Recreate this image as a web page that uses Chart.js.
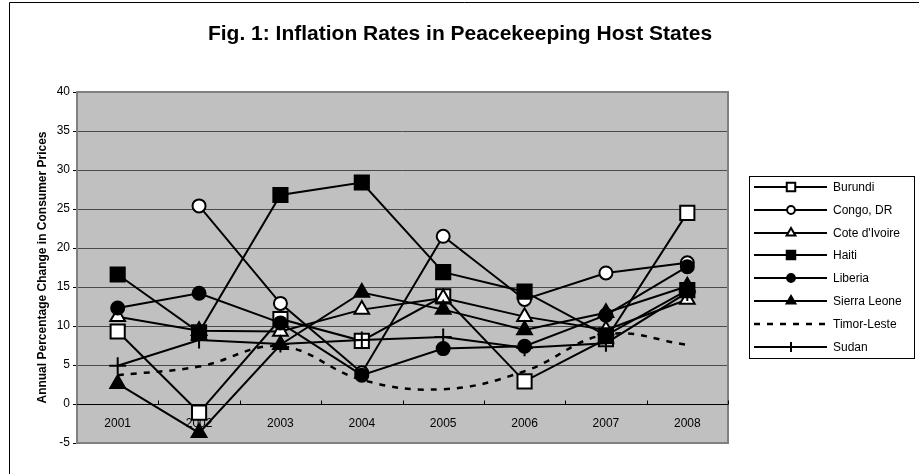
<!DOCTYPE html>
<html>
<head>
<meta charset="utf-8">
<script src="https://cdn.jsdelivr.net/npm/chart.js@4.4.1/dist/chart.umd.min.js"></script>
<style>
  body { margin: 0; background: #fff; }
  #wrap { width: 919px; height: 474px; position: relative; }
</style>
</head>
<body>
<div id="wrap"><canvas id="inflationChart" width="919" height="474"></canvas></div>
<script>
// ---------------- DATA ----------------
const years = ["2001", "2002", "2003", "2004", "2005", "2006", "2007", "2008"];

const burundi      = [9.3, -1.1, 10.9, 8.1, 13.8, 2.9, 8.3, 24.5];
const congoDR      = [null, 25.4, 12.9, 4.0, 21.5, 13.4, 16.8, 18.1];
const coteDIvoire  = [11.2, 9.4, 9.3, 12.1, 13.6, 11.2, 9.5, 13.4];
const haiti        = [16.6, 9.2, 26.8, 28.4, 16.9, 14.4, 8.8, 14.6];
const liberia      = [12.3, 14.2, 10.4, 3.7, 7.1, 7.4, 11.4, 17.6];
const sierraLeone  = [2.6, -3.7, 7.6, 14.3, 12.1, 9.5, 11.7, 15.1];
const timorLeste   = [3.7, 4.8, 7.4, 3.1, 1.9, 4.2, 8.9, 7.6];
const sudan        = [4.9, 8.2, 7.7, 8.2, 8.6, 7.2, 7.8, 14.3];

const yTicks = [-5, 0, 5, 10, 15, 20, 25, 30, 35, 40];

const FONT = "'Liberation Sans', Arial, sans-serif";

// series styling (markers as in the original Excel chart)
function series(label, data, style, fill, radius) {
  return {
    label: label,
    data: data,
    borderColor: "#000",
    borderWidth: 2,
    pointStyle: style,
    pointRadius: radius,
    pointHoverRadius: radius,
    pointBackgroundColor: fill,
    pointBorderColor: "#000",
    pointBorderWidth: 2,
    tension: 0,
    spanGaps: false
  };
}

const datasets = [
  series("Burundi", burundi, "rect", "#fff", 10),
  series("Congo, DR", congoDR, "circle", "#fff", 6.5),
  series("Cote d'Ivoire", coteDIvoire, "triangle", "#fff", 8.5),
  series("Haiti", haiti, "rect", "#000", 10),
  series("Liberia", liberia, "circle", "#000", 6.5),
  series("Sierra Leone", sierraLeone, "triangle", "#000", 8.5),
  Object.assign(series("Timor-Leste", timorLeste, "circle", "#000", 0), {
    borderDash: [6, 7], borderWidth: 2.5, tension: 0.4
  }),
  series("Sudan", sudan, "cross", "#000", 8.5)
];
// later series on top, as in Excel
datasets.forEach((d, i) => { d.order = datasets.length - i; });

// ---------------- PLUGINS ----------------
const frame = {
  id: "frame",
  beforeDraw(chart) {
    const { ctx, chartArea: a } = chart;
    ctx.save();
    ctx.fillStyle = "#fff";
    ctx.fillRect(0, 0, chart.width, chart.height);
    // outer border (right and bottom edges fall outside the picture)
    ctx.strokeStyle = "#000";
    ctx.lineWidth = 1;
    ctx.beginPath();
    ctx.moveTo(9.5, chart.height);
    ctx.lineTo(9.5, 2.5);
    ctx.lineTo(chart.width, 2.5);
    ctx.stroke();
    // plot background
    ctx.fillStyle = "#c0c0c0";
    ctx.fillRect(a.left, a.top, a.right - a.left, a.bottom - a.top);
    // title
    ctx.fillStyle = "#000";
    ctx.font = "bold 21px " + FONT;
    ctx.textAlign = "center";
    ctx.textBaseline = "middle";
    ctx.fillText("Fig. 1: Inflation Rates in Peacekeeping Host States", 460, 34);
    ctx.restore();
  },
  beforeDatasetsDraw(chart) {
    const { ctx, chartArea: a, scales: { x, y } } = chart;
    ctx.save();
    // plot border
    ctx.strokeStyle = "#808080";
    ctx.lineWidth = 2;
    ctx.strokeRect(a.left, a.top, a.right - a.left, a.bottom - a.top);
    // category axis line at zero and small ticks between categories
    const y0 = Math.round(y.getPixelForValue(0)) + 0.5;
    ctx.strokeStyle = "#000";
    ctx.lineWidth = 1;
    ctx.beginPath();
    ctx.moveTo(a.left, y0);
    ctx.lineTo(a.right, y0);
    for (let i = 0; i < years.length; i++) {
      const bx = Math.round(i < years.length - 1
        ? (x.getPixelForTick(i) + x.getPixelForTick(i + 1)) / 2
        : a.right) + 0.5;
      ctx.moveTo(bx, y0);
      ctx.lineTo(bx, y0 - 4);
    }
    ctx.stroke();
    ctx.restore();
  },
  afterDraw(chart) {
    const { ctx } = chart;
    const H = Chart.helpers;
    ctx.save();
    // legend box
    const bx = 749.5, by = 176.5, bw = 165, bh = 182;
    ctx.fillStyle = "#fff";
    ctx.fillRect(bx, by, bw, bh);
    ctx.strokeStyle = "#000";
    ctx.lineWidth = 1;
    ctx.strokeRect(bx, by, bw, bh);
    chart.data.datasets.forEach((ds, i) => {
      const ly = Math.round(187 + i * 22.8);
      ctx.save();
      ctx.strokeStyle = "#000";
      ctx.lineWidth = ds.borderWidth;
      ctx.setLineDash(ds.borderDash || []);
      ctx.beginPath();
      ctx.moveTo(754, ly);
      ctx.lineTo(827, ly);
      ctx.stroke();
      ctx.restore();
      if (ds.pointRadius > 0) {
        ctx.save();
        ctx.fillStyle = ds.pointBackgroundColor;
        ctx.strokeStyle = "#000";
        ctx.lineWidth = 2;
        H.drawPoint(ctx, { pointStyle: ds.pointStyle, radius: ds.pointRadius * 0.6, borderWidth: 2, rotation: 0 }, 791, ly);
        ctx.restore();
      }
      ctx.fillStyle = "#000";
      ctx.font = "12px " + FONT;
      ctx.textAlign = "left";
      ctx.textBaseline = "middle";
      ctx.fillText(ds.label, 833, ly + 1);
    });
    ctx.restore();
  }
};

// ---------------- CHART ----------------
const ctx = document.getElementById("inflationChart").getContext("2d");

new Chart(ctx, {
  type: "line",
  data: { labels: years, datasets: datasets },
  options: {
    responsive: false,
    animation: false,
    events: [],
    layout: { padding: { left: 0, top: 92, right: 191, bottom: 31 } },
    plugins: {
      legend: { display: false },
      title: { display: false },
      tooltip: { enabled: false }
    },
    scales: {
      x: {
        type: "category",
        position: { y: 0 },
        offset: true,
        grid: { display: false, drawTicks: false },
        border: { display: false },
        ticks: { color: "#000", font: { family: FONT, size: 12 }, padding: 12, maxRotation: 0, autoSkip: false }
      },
      y: {
        type: "linear",
        min: yTicks[0],
        max: yTicks[yTicks.length - 1],
        afterBuildTicks(scale) { scale.ticks = yTicks.map(v => ({ value: v })); },
        afterFit(scale) { scale.width = 77; },
        grid: { color: "#4a4a4a", lineWidth: 1, tickLength: 4, tickColor: "#000" },
        border: { display: false },
        ticks: { color: "#000", font: { family: FONT, size: 12 }, padding: 3 },
        title: {
          display: true,
          text: "Annual Percentage Change in Consumer Prices",
          color: "#000",
          font: { family: FONT, size: 12, weight: "bold" },
          padding: { top: 35, bottom: 0 }
        }
      }
    }
  },
  plugins: [frame]
});
</script>
</body>
</html>
